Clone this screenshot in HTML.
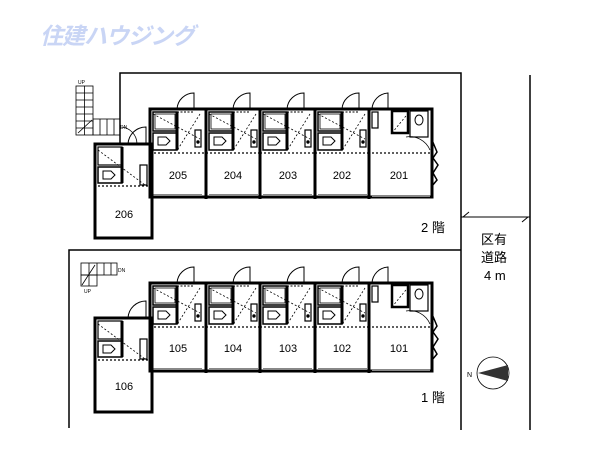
<!DOCTYPE html>
<html><head><meta charset="utf-8"><style>
html,body{margin:0;padding:0;background:#fff;width:600px;height:450px;overflow:hidden}
svg{display:block}
text{font-family:"Liberation Sans","Noto Sans CJK JP",sans-serif}
</style></head><body>
<svg width="600" height="450" viewBox="0 0 600 450" xmlns="http://www.w3.org/2000/svg">
<defs>
<g id="unit" fill="none" stroke="#000">
  <path d="M27 0 A17 17 0 0 1 44 -16 L44 0" stroke-width="1"/>
  <rect x="3" y="3" width="24" height="19" stroke-width="1.5"/>
  <rect x="5" y="5" width="20" height="15" stroke-width="0.8"/>
  <rect x="3" y="24" width="24" height="17" stroke-width="1.5"/>
  <path d="M8 28 h8 l4 4 l-4 4 h-8 z" stroke-width="1"/>
  <line x1="27" y1="3" x2="27" y2="41" stroke-width="3"/>
  <line x1="27" y1="3" x2="44" y2="3" stroke-width="1" stroke-dasharray="2 1.5"/>
  <line x1="3" y1="5" x2="50" y2="30" stroke-width="0.8" stroke-dasharray="2 2"/>
  <line x1="50" y1="5" x2="28" y2="40" stroke-width="0.8" stroke-dasharray="2 2"/>
  <rect x="45" y="21" width="6" height="17" stroke-width="1.2"/>
  <circle cx="48" cy="33" r="1.2" fill="#000"/>
  <line x1="0" y1="44" x2="55" y2="44" stroke-width="1.2" stroke-dasharray="2 2"/>
  <line x1="3" y1="86" x2="52" y2="86" stroke="#888" stroke-width="2"/>
</g>
<g id="floor">
  <!-- main block -->
  <rect x="150" y="109" width="282" height="88" fill="none" stroke="#000" stroke-width="3"/>
  <line x1="206" y1="109" x2="206" y2="199" stroke="#000" stroke-width="3"/>
  <line x1="260" y1="109" x2="260" y2="199" stroke="#000" stroke-width="3"/>
  <line x1="315" y1="109" x2="315" y2="199" stroke="#000" stroke-width="3"/>
  <line x1="369" y1="109" x2="369" y2="199" stroke="#000" stroke-width="3"/>
  <use href="#unit" x="150" y="109"/>
  <use href="#unit" x="206" y="109"/>
  <use href="#unit" x="260" y="109"/>
  <use href="#unit" x="315" y="109"/>
  <!-- 201 -->
  <g fill="none" stroke="#000">
    <path d="M372 109 A17 17 0 0 1 388 93 L388 109" stroke-width="1"/>
    <rect x="372" y="112" width="6" height="16" stroke-width="1.2"/>
    <rect x="392" y="111" width="16" height="22" stroke-width="2.5"/>
    <line x1="392" y1="133" x2="410" y2="111" stroke-width="0.8" stroke-dasharray="2 2"/>
    <rect x="410" y="111" width="18" height="26" stroke-width="1.2"/>
    <ellipse cx="419" cy="120" rx="4" ry="5" stroke-width="1"/>
    <line x1="372" y1="153" x2="430" y2="153" stroke-width="1.2" stroke-dasharray="2 2"/>
    <path d="M406 137 A22 22 0 0 1 430 150" stroke-width="0.8"/>
    <path d="M432 140 l5 12 l-4 6 l5 7 l-5 8 l4 7 l-5 6" stroke-width="1.5"/>
    <line x1="372" y1="196" x2="430" y2="196" stroke="#888" stroke-width="2"/>
  </g>
  <!-- 206 -->
  <g fill="none" stroke="#000">
    <rect x="95" y="144" width="57" height="94" stroke-width="3"/>
    <line x1="95" y1="144" x2="150" y2="144" stroke-width="3"/>
    <rect x="98" y="147" width="24" height="18" stroke-width="1.2"/>
    <rect x="98" y="167" width="24" height="16" stroke-width="1.5"/>
    <path d="M103 171 h8 l4 4 l-4 4 h-8 z" stroke-width="1"/>
    <line x1="122" y1="147" x2="122" y2="183" stroke-width="3"/>
    <line x1="98" y1="150" x2="145" y2="185" stroke-width="0.8" stroke-dasharray="2 2"/>
    <rect x="140" y="165" width="7" height="20" stroke-width="1.2"/>
    <line x1="98" y1="186" x2="150" y2="186" stroke-width="1.2" stroke-dasharray="2 2"/>
    <path d="M128 144 A18 18 0 0 1 146 127 L146 144" stroke-width="1"/>
  </g>
</g>
</defs>

<!-- logo -->
<text x="40" y="44" font-size="23" font-weight="bold" font-style="italic" fill="#c9d5f5" letter-spacing="-1">住建ハウジング</text>

<!-- site lines -->
<g stroke="#000" fill="none" stroke-width="1.5">
  <path d="M120 143 V73 H461 V430"/>
  <path d="M69 428 V250 H461"/>
  <line x1="530" y1="75" x2="530" y2="430"/>
  <line x1="461" y1="217" x2="530" y2="217" stroke-width="1"/>
  <line x1="463" y1="217" x2="469" y2="212" stroke-width="1"/>
  <line x1="522" y1="222" x2="528" y2="217" stroke-width="1"/>
</g>

<!-- 2F stairs -->
<g fill="none" stroke="#000" stroke-width="0.8">
  <rect x="76" y="86" width="17" height="49"/>
  <line x1="84.5" y1="86" x2="84.5" y2="135"/>
  <line x1="76" y1="93" x2="93" y2="93"/><line x1="76" y1="100" x2="93" y2="100"/>
  <line x1="76" y1="107" x2="93" y2="107"/><line x1="76" y1="114" x2="93" y2="114"/>
  <line x1="76" y1="121" x2="93" y2="121"/><line x1="76" y1="128" x2="93" y2="128"/>
  <rect x="93" y="119" width="27" height="16"/>
  <line x1="100" y1="119" x2="100" y2="135"/><line x1="107" y1="119" x2="107" y2="135"/><line x1="114" y1="119" x2="114" y2="135"/>
  <line x1="78" y1="133" x2="92" y2="120"/>
  <path d="M120 127 A17 17 0 0 1 137 144" />
</g>
<text x="78" y="84" font-size="5">UP</text>
<text x="120" y="129" font-size="5">DN</text>

<!-- 1F stairs -->
<g fill="none" stroke="#000" stroke-width="0.8">
  <rect x="81" y="263" width="36" height="12"/>
  <rect x="81" y="275" width="16" height="11"/>
  <line x1="89" y1="263" x2="89" y2="286"/><line x1="97" y1="263" x2="97" y2="275"/>
  <line x1="104" y1="263" x2="104" y2="275"/><line x1="111" y1="263" x2="111" y2="275"/>
  <line x1="82" y1="285" x2="95" y2="265"/>
</g>
<text x="118" y="272" font-size="5">DN</text>
<text x="84" y="293" font-size="5">UP</text>

<use href="#floor"/>
<use href="#floor" y="174"/>

<g font-size="11" text-anchor="middle" fill="#000">
  <text x="178" y="179">205</text><text x="233" y="179">204</text><text x="288" y="179">203</text>
  <text x="342" y="179">202</text><text x="399" y="179">201</text><text x="124" y="218">206</text>
  <text x="178" y="352">105</text><text x="233" y="352">104</text><text x="288" y="352">103</text>
  <text x="342" y="352">102</text><text x="399" y="352">101</text><text x="124" y="390">106</text>
</g>
<g font-size="13" fill="#000">
  <text x="421" y="232">2 階</text>
  <text x="421" y="402">1 階</text>
  <text x="481" y="244">区有</text>
  <text x="481" y="262">道路</text>
  <text x="484" y="280">4 m</text>
</g>
<!-- compass -->
<circle cx="493" cy="373" r="16" fill="#fff" stroke="#000" stroke-width="0.8"/>
<path d="M478 373 L508 365 L508 381 Z" fill="#333"/>
<text x="467" y="377" font-size="7">N</text>
</svg>
</body></html>
